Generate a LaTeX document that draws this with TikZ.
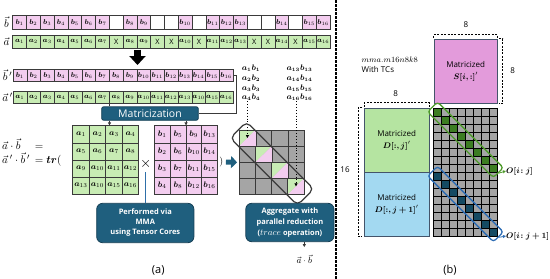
\documentclass[tikz,border=0pt]{standalone}
\usepackage{amsmath}
\usepackage{bm}
\usepackage{fontspec}
\setsansfont{Open Sans}
\usetikzlibrary{arrows.meta,calc}
\definecolor{pcell}{HTML}{F3CDEF}
\definecolor{gcell}{HTML}{C8ECB4}
\definecolor{cellline}{HTML}{3A3A3A}
\definecolor{tealbox}{HTML}{1F5F7E}
\definecolor{tealedge}{HTML}{153F55}
\definecolor{gridgray}{HTML}{A5A5A5}
\definecolor{sbox}{HTML}{E39BDB}
\definecolor{dbox}{HTML}{B5E4A1}
\definecolor{ebox}{HTML}{A3D9F1}
\definecolor{boxedge}{HTML}{44546A}
\definecolor{dgreen}{HTML}{3C7D22}
\definecolor{lgreen}{HTML}{4E9A2B}
\definecolor{dblue}{HTML}{144A62}
\definecolor{lblue}{HTML}{2E6DB4}
\definecolor{vline}{HTML}{2E6FA8}
\begin{document}
\begin{tikzpicture}[x=1pt,y=-1pt,
  cell/.style={draw=cellline,line width=0.5pt,inner sep=0pt,font=\fontsize{7.3}{7.3}\selectfont},
  rowcell/.style={cell,minimum width=13.8pt,minimum height=13.3pt},
  prow/.style={cell,minimum width=13.75pt,minimum height=12.7pt},
  acell/.style={cell,fill=gcell,minimum width=16.5pt,minimum height=17.1pt,font=\fontsize{8}{8}\selectfont},
  bcell/.style={cell,fill=pcell,minimum width=15.75pt,minimum height=17.1pt,font=\fontsize{8}{8}\selectfont},
  ccell/.style={cell,fill=gridgray,minimum width=16.2pt,minimum height=16.1pt},
  gsm/.style={draw=black,line width=0.4pt,fill=gridgray,inner sep=0pt,minimum width=8pt,minimum height=7.98pt},
  vlab/.style={font=\fontsize{11}{11}\selectfont,inner sep=0pt},
  prod/.style={font=\fontsize{7.8}{7.8}\selectfont,inner sep=0pt},
  tealnode/.style={draw=tealedge,fill=tealbox,text=white,line width=0.8pt},
  conn/.style={draw=cellline,line width=0.8pt},
  tip/.style={-{Triangle[length=3pt,width=3pt]}},
  dim/.style={draw=black,line width=0.9pt,dash pattern=on 2pt off 1.4pt},
  mbox/.style={draw=boxedge,line width=0.8pt,align=center,font=\sffamily\fontsize{8}{12}\selectfont},
  dlab/.style={font=\sffamily\fontsize{8}{8}\selectfont,inner sep=0pt}
]
\useasboundingbox (0,0) rectangle (550,279);
\def\dashmark{-}
% ---------- top rows ----------
\node[vlab] (lb) at (6.5,22.3) {$\vec{b}$};
\node[vlab] (la) at (6.5,41.7) {$\vec{a}$};
\foreach \c [count=\k] in {1,2,3,4,5,6,7,-,8,9,-,-,10,-,11,12,13,-,-,14,-,15,16}{
  \ifx\c\dashmark
    \node[rowcell,fill=white] (tb\k) at ({12.7+13.8*(\k-0.5)},22.3) {};
    \node[rowcell,fill=gcell] (ta\k) at ({12.7+13.8*(\k-0.5)},41.7) {\sffamily X};
  \else
    \node[rowcell,fill=pcell] (tb\k) at ({12.7+13.8*(\k-0.5)},22.3) {$\bm{b}_{\c}$};
    \node[rowcell,fill=gcell] (ta\k) at ({12.7+13.8*(\k-0.5)},41.7) {$\bm{a}_{\c}$};
  \fi
}
\coordinate (dA) at (137.5,49.5);
\coordinate (dB) at (137.5,65);
\draw[line width=7pt,-{Triangle[length=9pt,width=16pt]}] (dA) -- (dB);
% ---------- primed rows ----------
\node[vlab] (lbp) at (7.5,75.3) {$\vec{b}\,'$};
\node[vlab] (lap) at (7.5,97.3) {$\vec{a}\,'$};
\foreach \c [count=\k] in {1,2,3,4,5,6,7,8,9,10,11,12,13,14,15,16}{
  \node[prow,fill=pcell] (pb\k) at ({13+13.75*(\k-0.5)},75.3) {$\bm{b}_{\c}$};
}
\foreach \c [count=\k] in {1,2,3,4,5,6,7,8,9,10,11,12,13,10,15,16}{
  \node[prow,fill=gcell] (pa\k) at ({13+13.75*(\k-0.5)},97.3) {$\bm{a}_{\c}$};
}
% ---------- products ----------
\foreach \i/\y in {1/68.3,2/78.3,3/88,4/97.7}{
  \node[prod] (p\i) at (251,\y) {$\bm{a_{\i}b_{\i}}$};
}
\foreach \i/\y in {13/68.3,14/78.3,15/88,16/97.7}{
  \node[prod] (q\i) at (299.5,\y) {$\bm{a_{\i}b_{\i}}$};
}
% ---------- Matricization ----------
\node[tealnode,rounded corners=2pt,minimum width=96.6pt,minimum height=13.5pt,inner sep=0pt,
      font=\sffamily\fontsize{10.5}{10.5}\selectfont] (mat) at (150,113.5) {Matricization};
\draw[conn] (pb16.east) -- ++(2.7,0) |- (mat.east);
\draw[conn] (pa7.south east) -- (pa7.south east |- mat.north);
% ---------- matrices ----------
\foreach \r/\la/\lb/\lc/\ld in {1/1/2/3/4,2/5/6/7/8,3/9/10/11/12,4/13/10/15/16}{
  \node[acell] (A\r1) at ({72.7+16.5*0.5},{125.7+17.1*(\r-0.5)}) {$\bm{a}_{\la}$};
  \node[acell] (A\r2) at ({72.7+16.5*1.5},{125.7+17.1*(\r-0.5)}) {$\bm{a}_{\lb}$};
  \node[acell] (A\r3) at ({72.7+16.5*2.5},{125.7+17.1*(\r-0.5)}) {$\bm{a}_{\lc}$};
  \node[acell] (A\r4) at ({72.7+16.5*3.5},{125.7+17.1*(\r-0.5)}) {$\bm{a}_{\ld}$};
}
\foreach \r/\la/\lb/\lc/\ld in {1/1/5/9/13,2/2/6/10/14,3/3/7/11/15,4/4/8/12/16}{
  \node[bcell] (B\r1) at ({154.3+15.75*0.5},{125.7+17.1*(\r-0.5)}) {$\bm{b}_{\la}$};
  \node[bcell] (B\r2) at ({154.3+15.75*1.5},{125.7+17.1*(\r-0.5)}) {$\bm{b}_{\lb}$};
  \node[bcell] (B\r3) at ({154.3+15.75*2.5},{125.7+17.1*(\r-0.5)}) {$\bm{b}_{\lc}$};
  \node[bcell] (B\r4) at ({154.3+15.75*3.5},{125.7+17.1*(\r-0.5)}) {$\bm{b}_{\ld}$};
}
\draw[conn,tip] (pa7.south east |- mat.south) -- (pa7.south east |- A11.north);
\draw[conn,tip] (B12.north east |- mat.south) -- (B12.north east);
\node[font=\fontsize{15}{15}\selectfont,inner sep=0pt] (times) at (145.6,164) {$\times$};
\node[anchor=west,inner sep=0pt,font=\fontsize{11}{12.8}\selectfont] (eq) at (2,153)
  {\begin{tabular}{@{}l@{\hspace{5pt}}l@{}}$\vec{a}\cdot\vec{b}$ & $=$\\ $\vec{a}\,'\cdot\vec{b}\,'$ & $=\bm{tr}($\end{tabular}};
\node[font=\fontsize{10}{10}\selectfont,inner sep=0pt] (rp) at (221.3,162) {$)$};
% ---------- result grid ----------
\foreach \r in {1,2,3,4}{
  \foreach \c in {1,2,3,4}{
    \node[ccell] (C\r\c) at ({239.3+16.2*(\c-0.5)},{130+16.1*(\r-0.5)}) {};
  }
}
\foreach \k in {1,2,3,4}{
  \fill[gcell] (C\k\k.north west) -- (C\k\k.north east) -- (C\k\k.south west) -- cycle;
  \fill[pcell] (C\k\k.north east) -- (C\k\k.south east) -- (C\k\k.south west) -- cycle;
  \draw[cellline,line width=0.5pt] (C\k\k.north west) rectangle (C\k\k.south east);
}
\draw[tealbox,line width=5pt,-{Triangle[length=6pt,width=12pt]},shorten >=2pt] (rp.east) ++(2.5,0) -- (C21.south west);
\draw[line width=0.9pt,dotted,-{Triangle[length=3pt,width=3pt]}] (p4.south -| C11.center) -- (C11.center);
\draw[line width=0.9pt,dotted,-{Triangle[length=3pt,width=3pt]}] (q16.south -| C44.center) -- (C44.center);
\node[draw=cellline,line width=1.2pt,rounded corners=5pt,minimum width=95pt,minimum height=23pt,
      inner sep=0pt,rotate=-45] (diagC) at (272,163.5) {};
% ---------- bottom boxes ----------
\node[tealnode,rounded corners=6pt,minimum width=97.3pt,minimum height=39.4pt,inner sep=0pt,align=center,
      font=\sffamily\bfseries\fontsize{7.5}{10}\selectfont] (perf) at (145.3,223) {Performed via\\MMA\\using Tensor Cores};
\draw[vline,line width=0.9pt] (times.south) ++(0,3) -- (times.south |- perf.north);
\node[tealnode,rounded corners=6pt,minimum width=88.3pt,minimum height=38.4pt,inner sep=0pt,align=center,
      font=\sffamily\bfseries\fontsize{7.5}{11}\selectfont] (agg) at (289.9,222.5)
      {Aggregate with\\parallel reduction\\({\fontsize{9}{9}\selectfont$trace$} operation)};
\node[font=\fontsize{9.5}{9.5}\selectfont,inner sep=0pt] (res) at (304.3,259) {$\vec{a}\cdot\vec{b}$};
\draw[conn,tip] (res.north |- agg.south) -- ++(0,5);
\node[font=\sffamily\fontsize{11}{11}\selectfont] (capa) at (158.3,270) {(a)};
% ---------- separator ----------
\coordinate (sepT) at (336,0);
\coordinate (sepB) at (336,279);
\draw[black,line width=1.2pt,dash pattern=on 2.5pt off 1.5pt] (sepT) -- (sepB);
% ---------- panel (b) ----------
\node[anchor=west,inner sep=0pt,font=\fontsize{8.5}{8.5}\selectfont] (mma) at (361.5,59.3) {$mma.m16n8k8$};
\node[anchor=west,dlab] (tcs) at (361.5,69.5) {With TCs};
\node[mbox,fill=sbox,minimum width=63.3pt,minimum height=64pt] (S) at (465.7,71.3) {Matricized\\$\bm{S[i,:]}'$};
\node[mbox,fill=dbox,minimum width=64.7pt,minimum height=64pt] (Dj) at (396.7,140.3) {Matricized\\$\bm{D[:,j]}'$};
\node[mbox,fill=ebox,minimum width=64.7pt,minimum height=63.7pt] (Dj1) at (396.7,204.2) {Matricized\\$\bm{D[:,j+1]}'$};
\foreach \r in {1,...,16}{
  \foreach \c in {1,...,8}{
    \node[gsm] (g\r-\c) at ({433.3+8*(\c-0.5)},{108.3+7.98*(\r-0.5)}) {};
  }
}
\foreach \k [evaluate=\k as \rr using int(\k+8)] in {1,...,8}{
  \node[gsm,fill=dgreen] at (g\k-\k) {};
  \node[gsm,fill=dblue] at (g\rr-\k) {};
}
\node[draw=lgreen,line width=1.3pt,rounded corners=3pt,minimum width=93pt,minimum height=14pt,
      inner sep=0pt,rotate=-45] (gdiag) at (465.5,139.8) {};
\node[draw=lblue,line width=1.3pt,rounded corners=3pt,minimum width=93pt,minimum height=14pt,
      inner sep=0pt,rotate=-45] (bdiag) at (465.5,204) {};
\node[anchor=west,inner sep=0pt,font=\fontsize{8.5}{8.5}\selectfont] (Oj) at (506,171) {$\bm{O[i\!:j]}$};
\node[anchor=west,inner sep=0pt,font=\fontsize{8.5}{8.5}\selectfont] (Oj1) at (506,236) {$\bm{O[i\!:j+1]}$};
\draw[lgreen,line width=0.8pt,-{Triangle[length=3pt,width=3pt]}] (gdiag.east) -- (Oj.west);
\draw[lblue,line width=0.8pt,-{Triangle[length=3pt,width=3pt]}] (bdiag.east) -- (Oj1.west);
% dimension marks
\draw[dim] ($(S.north west)+(0,-1)$) -- ($(S.north west)+(0,-4)$) -- ($(S.north east)+(0,-4)$) -- ($(S.north east)+(0,-1)$);
\draw[dim] ($(S.north east)+(1.5,0)$) -- ($(S.north east)+(5,0)$) -- ($(S.south east)+(5,0)$) -- ($(S.south east)+(1.5,0)$);
\draw[dim] ($(Dj.north west)+(0,-1)$) -- ($(Dj.north west)+(0,-5)$) -- ($(Dj.north east)+(0,-5)$) -- ($(Dj.north east)+(0,-1)$);
\draw[dim] ($(Dj.north west)+(-1.5,0)$) -- ($(Dj.north west)+(-6,0)$) -- ($(Dj1.south west)+(-6,0)$) -- ($(Dj1.south west)+(-1.5,0)$);
\node[dlab] (n8a) at (466,25) {8};
\node[dlab] (n8b) at (512.7,70.7) {8};
\node[dlab] (n8c) at (395.7,93.3) {8};
\node[dlab] (n16) at (345,169.3) {16};
\node[font=\sffamily\fontsize{11}{11}\selectfont] (capb) at (450,270) {(b)};
\end{tikzpicture}
\end{document}
